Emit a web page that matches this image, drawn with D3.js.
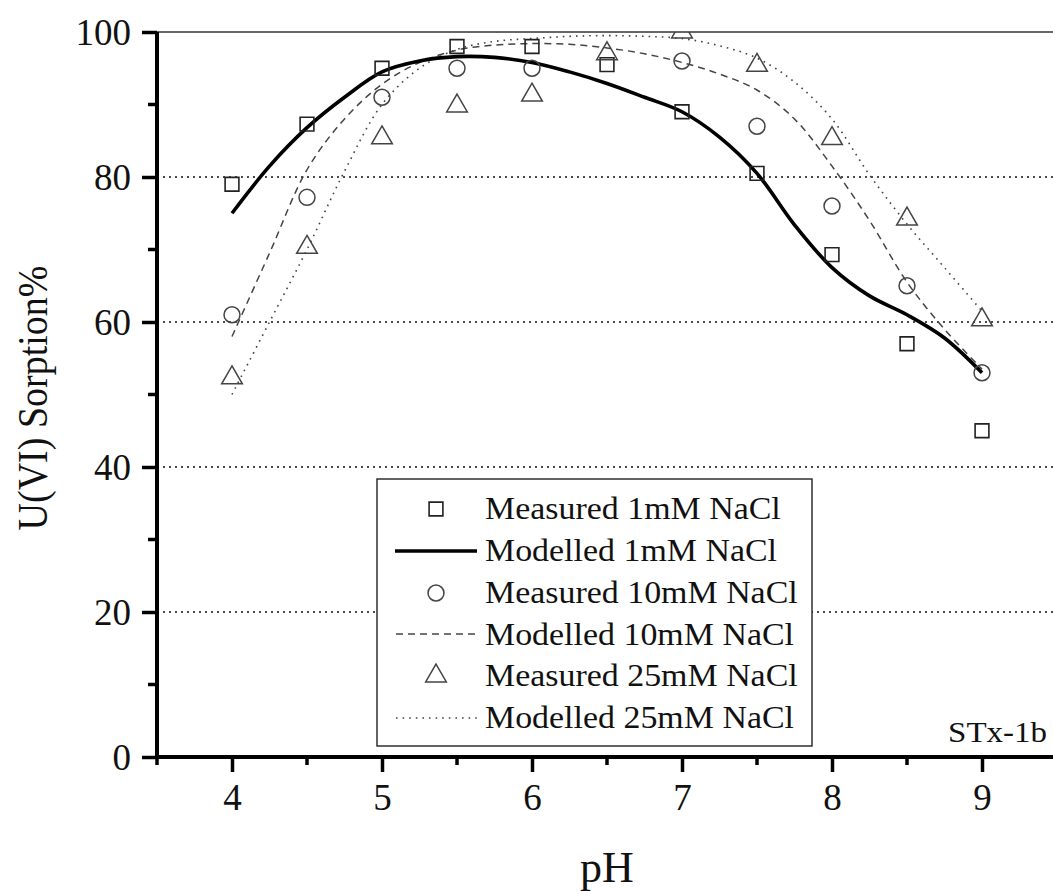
<!DOCTYPE html>
<html>
<head>
<meta charset="utf-8">
<script src="https://cdn.jsdelivr.net/npm/d3@7/dist/d3.min.js"></script>
<style>
  html, body { margin: 0; padding: 0; background: #fff; }
  svg { display: block; }
  text { font-family: "Liberation Serif", "Times New Roman", serif; fill: #111; }
</style>
</head>
<body>
<svg id="chart" width="1053" height="891"></svg>
<script>
// ---- data ----
const measuredPH1 = [4, 4.5, 5, 5.5, 6, 6.5, 7, 7.5, 8, 8.5, 9];
const measured1mM = [79, 87.3, 95, 98, 98, 95.5, 89, 80.5, 69.3, 57, 45];

const measuredPH10 = [4, 4.5, 5, 5.5, 6, 7, 7.5, 8, 8.5, 9];
const measured10mM = [61, 77.2, 91, 95, 95, 96, 87, 76, 65, 53];

const measuredPH25 = [4, 4.5, 5, 5.5, 6, 6.5, 7, 7.5, 8, 8.5, 9];
const measured25mM = [52.3, 70.3, 85.4, 89.8, 91.3, 97, 100, 95.4, 85.3, 74.2, 60.3];

const modelPH = [4, 4.25, 4.5, 4.75, 5, 5.25, 5.5, 5.75, 6, 6.25, 6.5, 6.75, 7, 7.25, 7.5, 7.75, 8, 8.25, 8.5, 8.75, 9];
const model1mM  = [75.0, 81.5, 86.8, 91.0, 94.5, 96.0, 96.6, 96.5, 95.8, 94.5, 92.9, 91.0, 89.0, 85.5, 80.5, 73.4, 67.5, 63.6, 61.0, 57.8, 53.0];
const model10mM = [58.0, 69.5, 81.0, 88.0, 92.8, 95.8, 97.5, 98.2, 98.4, 98.3, 97.8, 97.0, 95.8, 94.2, 92.0, 88.0, 81.5, 74.0, 65.5, 59.0, 53.5];
const model25mM = [50.0, 60.0, 70.0, 80.8, 90.0, 95.0, 97.6, 98.7, 99.1, 99.4, 99.5, 99.4, 99.1, 98.1, 96.4, 93.1, 88.0, 80.3, 73.5, 67.5, 61.5];

const xTickValues = [4, 5, 6, 7, 8, 9];
const xMinorTicks = [3.5, 4.5, 5.5, 6.5, 7.5, 8.5, 9.5];
const yTickValues = [0, 20, 40, 60, 80, 100];
const yMinorTicks = [10, 30, 50, 70, 90];
const gridValues = [20, 40, 60, 80];

const legendLabels = [
  "Measured 1mM NaCl", "Modelled 1mM NaCl",
  "Measured 10mM NaCl", "Modelled 10mM NaCl",
  "Measured 25mM NaCl", "Modelled 25mM NaCl"
];

// ---- layout ----
const svg = d3.select("#chart");
const pLeft = 157, pRight = 1057, pTop = 32, pBottom = 757;
const x = d3.scaleLinear().domain([3.5, 9.5]).range([pLeft, pRight]);
const y = d3.scaleLinear().domain([0, 100]).range([pBottom, pTop]);

svg.append("defs").append("clipPath").attr("id", "plotclip")
  .append("rect").attr("x", pLeft).attr("y", pTop).attr("width", pRight - pLeft).attr("height", pBottom - pTop);

// grid lines
svg.append("g").selectAll("line").data(gridValues).join("line")
  .attr("x1", pLeft).attr("x2", 1053)
  .attr("y1", d => y(d)).attr("y2", d => y(d))
  .attr("stroke", "#111").attr("stroke-width", 1.4).attr("stroke-dasharray", "2,4");

// top frame line
svg.append("line").attr("x1", pLeft).attr("x2", 1053).attr("y1", pTop).attr("y2", pTop)
  .attr("stroke", "#333").attr("stroke-width", 1.5);

// curves
const line = d3.line().x(d => x(d[0])).y(d => y(d[1])).curve(d3.curveCatmullRom.alpha(0.5));
const plot = svg.append("g").attr("clip-path", "url(#plotclip)");

plot.append("path").datum(modelPH.map((p, i) => [p, model25mM[i]]))
  .attr("d", line).attr("fill", "none").attr("stroke", "#444").attr("stroke-width", 1.6)
  .attr("stroke-dasharray", "1.6,5");
plot.append("path").datum(modelPH.map((p, i) => [p, model10mM[i]]))
  .attr("d", line).attr("fill", "none").attr("stroke", "#444").attr("stroke-width", 1.5)
  .attr("stroke-dasharray", "7,5");
plot.append("path").datum(modelPH.map((p, i) => [p, model1mM[i]]))
  .attr("d", line).attr("fill", "none").attr("stroke", "#000").attr("stroke-width", 3.6);

// markers
const sq = d3.symbol().type(d3.symbolSquare).size(190);
const ci = d3.symbol().type(d3.symbolCircle).size(200);
const tr = d3.symbol().type(d3.symbolTriangle).size(185);

plot.append("g").selectAll("path").data(measuredPH1.map((p, i) => [p, measured1mM[i]])).join("path")
  .attr("d", sq).attr("transform", d => `translate(${x(d[0])},${y(d[1])})`)
  .attr("fill", "none").attr("stroke", "#222").attr("stroke-width", 1.6);
plot.append("g").selectAll("path").data(measuredPH10.map((p, i) => [p, measured10mM[i]])).join("path")
  .attr("d", ci).attr("transform", d => `translate(${x(d[0])},${y(d[1])})`)
  .attr("fill", "none").attr("stroke", "#444").attr("stroke-width", 1.5);
plot.append("g").selectAll("path").data(measuredPH25.map((p, i) => [p, measured25mM[i]])).join("path")
  .attr("d", tr).attr("transform", d => `translate(${x(d[0])},${y(d[1])})`)
  .attr("fill", "none").attr("stroke", "#444").attr("stroke-width", 1.5);

// axes
const yAxis = svg.append("g").attr("transform", `translate(${pLeft},0)`)
  .call(d3.axisLeft(y).tickValues(yTickValues).tickSize(15).tickPadding(11).tickFormat(d3.format("d")));
yAxis.select(".domain").remove();
yAxis.selectAll(".tick line").attr("stroke", "#000").attr("stroke-width", 3.5);
yAxis.selectAll(".tick text").style("font-size", "37px").style("font-family", "Liberation Serif").attr("fill", "#111").attr("dy", "0.34em");
svg.append("g").selectAll("line").data(yMinorTicks).join("line")
  .attr("x1", pLeft - 9).attr("x2", pLeft).attr("y1", d => y(d)).attr("y2", d => y(d))
  .attr("stroke", "#000").attr("stroke-width", 3.5);

const xAxis = svg.append("g").attr("transform", `translate(0,${pBottom})`)
  .call(d3.axisBottom(x).tickValues(xTickValues).tickSize(15).tickPadding(12).tickFormat(d3.format("d")));
xAxis.select(".domain").remove();
xAxis.selectAll(".tick line").attr("stroke", "#000").attr("stroke-width", 3.5);
xAxis.selectAll(".tick text").style("font-size", "37px").style("font-family", "Liberation Serif").attr("fill", "#111");
svg.append("g").selectAll("line").data(xMinorTicks).join("line")
  .attr("x1", d => x(d)).attr("x2", d => x(d)).attr("y1", pBottom).attr("y2", pBottom + 8)
  .attr("stroke", "#000").attr("stroke-width", 3.5);

// axis lines
svg.append("line").attr("x1", pLeft).attr("x2", pLeft).attr("y1", pTop).attr("y2", pBottom + 2)
  .attr("stroke", "#000").attr("stroke-width", 4);
svg.append("line").attr("x1", pLeft - 2).attr("x2", 1053).attr("y1", pBottom).attr("y2", pBottom)
  .attr("stroke", "#000").attr("stroke-width", 4);

// axis titles
svg.append("text").attr("transform", "translate(47,398) scale(1.12,1) rotate(-90)")
  .attr("text-anchor", "middle").style("font-size", "38px").text("U(VI) Sorption%");
svg.append("text").attr("x", 607).attr("y", 882)
  .attr("text-anchor", "middle").style("font-size", "44px").text("pH");

// annotation
svg.append("text").attr("transform", "translate(1047,742) scale(1.1,1)")
  .attr("text-anchor", "end").style("font-size", "30px").text("STx-1b");

// legend
const lg = svg.append("g");
lg.append("rect").attr("x", 377).attr("y", 479).attr("width", 435).attr("height", 267)
  .attr("fill", "#fff").attr("stroke", "#222").attr("stroke-width", 1.4);
const rowBase = [519, 561, 603, 645, 686, 728];
lg.selectAll("text").data(legendLabels).join("text")
  .attr("transform", (d, i) => `translate(485,${rowBase[i]}) scale(1.06,1)`)
  .style("font-size", "32px").text(d => d);
const symX = 436;
lg.append("path").attr("d", sq).attr("transform", `translate(${symX},${rowBase[0] - 10})`)
  .attr("fill", "none").attr("stroke", "#222").attr("stroke-width", 1.6);
lg.append("line").attr("x1", 395).attr("x2", 477).attr("y1", rowBase[1] - 10).attr("y2", rowBase[1] - 10)
  .attr("stroke", "#000").attr("stroke-width", 3.6);
lg.append("path").attr("d", ci).attr("transform", `translate(${symX},${rowBase[2] - 10})`)
  .attr("fill", "none").attr("stroke", "#444").attr("stroke-width", 1.5);
lg.append("line").attr("x1", 396).attr("x2", 477).attr("y1", rowBase[3] - 11).attr("y2", rowBase[3] - 11)
  .attr("stroke", "#444").attr("stroke-width", 1.5).attr("stroke-dasharray", "7,5");
lg.append("path").attr("d", tr).attr("transform", `translate(${symX},${rowBase[4] - 10})`)
  .attr("fill", "none").attr("stroke", "#444").attr("stroke-width", 1.5);
lg.append("line").attr("x1", 396).attr("x2", 477).attr("y1", rowBase[5] - 10).attr("y2", rowBase[5] - 10)
  .attr("stroke", "#444").attr("stroke-width", 1.6).attr("stroke-dasharray", "1.6,5");
</script>
</body>
</html>
